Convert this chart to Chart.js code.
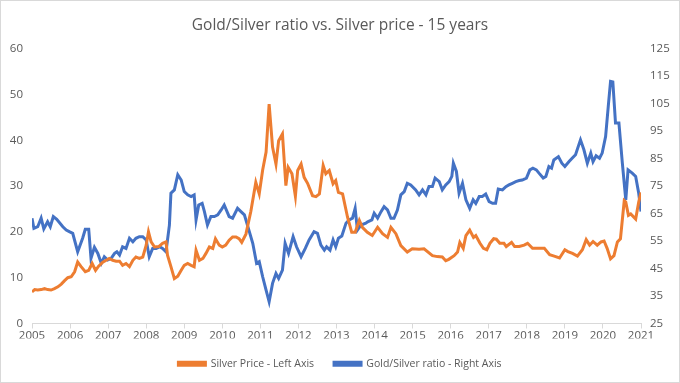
<!DOCTYPE html>
<html>
<head>
<meta charset="utf-8">
<script src="https://cdn.jsdelivr.net/npm/chart.js@4.4.1/dist/chart.umd.min.js"></script>
<style>
  html, body { margin: 0; padding: 0; background: #fff; }
  #wrap { width: 680px; height: 383px; position: relative; }
</style>
</head>
<body>
<div id="wrap"><canvas id="chart"></canvas></div>
<script>
// Silver price, USD/oz (left axis)
const silverYears = [
  2005.00, 2005.07, 2005.15, 2005.24, 2005.33, 2005.41, 2005.50, 2005.59, 2005.68, 2005.77,
  2005.85, 2005.94, 2006.03, 2006.12, 2006.20, 2006.29, 2006.40, 2006.49, 2006.58, 2006.67,
  2006.75, 2006.86, 2006.95, 2007.03, 2007.12, 2007.21, 2007.30, 2007.38, 2007.47, 2007.56,
  2007.65, 2007.73, 2007.82, 2007.91, 2008.00, 2008.06, 2008.13, 2008.22, 2008.33, 2008.43,
  2008.52, 2008.56, 2008.65, 2008.74, 2008.83, 2008.92, 2009.00, 2009.09, 2009.18, 2009.26,
  2009.31, 2009.40, 2009.49, 2009.57, 2009.66, 2009.75, 2009.82, 2009.92, 2010.00, 2010.09,
  2010.18, 2010.27, 2010.36, 2010.44, 2010.51, 2010.62, 2010.75, 2010.88, 2010.97, 2011.06,
  2011.15, 2011.23, 2011.32, 2011.41, 2011.48, 2011.58, 2011.67, 2011.73, 2011.83, 2011.92,
  2011.98, 2012.07, 2012.15, 2012.24, 2012.37, 2012.46, 2012.55, 2012.65, 2012.72, 2012.81,
  2012.91, 2012.98, 2013.05, 2013.16, 2013.29, 2013.40, 2013.49, 2013.60, 2013.68, 2013.81,
  2013.94, 2014.08, 2014.21, 2014.34, 2014.43, 2014.56, 2014.69, 2014.86, 2014.99, 2015.17,
  2015.30, 2015.52, 2015.65, 2015.78, 2015.87, 2015.95, 2016.09, 2016.18, 2016.24, 2016.33,
  2016.40, 2016.50, 2016.60, 2016.66, 2016.77, 2016.86, 2016.95, 2017.03, 2017.13, 2017.20,
  2017.29, 2017.40, 2017.46, 2017.60, 2017.68, 2017.80, 2017.93, 2018.02, 2018.15, 2018.32,
  2018.46, 2018.60, 2018.72, 2018.86, 2019.00, 2019.08, 2019.20, 2019.33, 2019.46, 2019.56,
  2019.65, 2019.74, 2019.85, 2019.95, 2020.03, 2020.11, 2020.20, 2020.29, 2020.38, 2020.46,
  2020.56, 2020.60, 2020.67, 2020.73, 2020.86, 2020.94, 2021.00
];
const silverPrice = [
  6.9, 7.4, 7.3, 7.4, 7.6, 7.4, 7.3, 7.6, 8.0, 8.6,
  9.3, 10.0, 10.2, 11.3, 13.4, 12.4, 11.3, 11.6, 13.1, 11.6,
  12.5, 13.4, 13.8, 14.2, 13.8, 13.6, 13.6, 12.7, 13.1, 12.4,
  13.8, 14.5, 14.2, 14.5, 17.1, 20.0, 17.8, 16.7, 16.8, 17.5,
  17.8, 14.9, 12.4, 9.8, 10.3, 11.6, 12.7, 13.1, 12.7, 12.4,
  16.0, 13.8, 14.2, 15.3, 16.7, 16.4, 18.5, 17.1, 16.7, 17.1,
  18.2, 18.9, 18.9, 18.5, 17.7, 19.5, 24.5, 30.8, 28.3, 33.5,
  37.4, 47.9, 38.5, 34.8, 39.9, 41.4, 30.1, 34.1, 32.7, 27.8,
  33.4, 34.8, 31.9, 30.6, 27.9, 27.7, 28.3, 34.5, 32.7, 33.4,
  30.5, 31.2, 28.6, 28.3, 23.2, 19.9, 19.9, 22.5, 21.0, 19.9,
  19.2, 21.0, 19.6, 18.8, 21.0, 19.6, 17.0, 15.6, 16.3, 16.2,
  16.3, 14.8, 14.6, 14.5, 13.7, 14.0, 14.8, 15.6, 17.7, 16.4,
  19.2, 20.4, 18.8, 19.2, 17.5, 16.4, 16.1, 17.5, 18.5, 18.4,
  17.5, 17.5, 16.8, 17.7, 16.8, 16.8, 17.1, 17.5, 16.4, 16.4,
  16.4, 15.0, 14.7, 14.3, 16.1, 15.7, 15.3, 14.7, 16.1, 18.3,
  17.1, 17.9, 17.1, 17.8, 18.0, 16.4, 14.1, 14.8, 17.8, 18.5,
  26.8, 26.5, 23.6, 23.9, 22.8, 26.5, 28.6
];

// Gold/Silver ratio (right axis)
const ratioYears = [
  2005.00, 2005.05, 2005.15, 2005.24, 2005.31, 2005.41, 2005.48, 2005.56, 2005.65, 2005.81,
  2005.90, 2005.98, 2006.07, 2006.20, 2006.33, 2006.40, 2006.49, 2006.55, 2006.64, 2006.73,
  2006.82, 2006.90, 2006.99, 2007.08, 2007.17, 2007.23, 2007.30, 2007.38, 2007.47, 2007.56,
  2007.65, 2007.73, 2007.82, 2007.91, 2008.00, 2008.08, 2008.17, 2008.26, 2008.35, 2008.43,
  2008.52, 2008.61, 2008.65, 2008.74, 2008.83, 2008.92, 2009.00, 2009.09, 2009.18, 2009.26,
  2009.31, 2009.38, 2009.47, 2009.53, 2009.61, 2009.70, 2009.79, 2009.88, 2009.97, 2010.05,
  2010.18, 2010.27, 2010.40, 2010.49, 2010.58, 2010.66, 2010.80, 2010.90, 2010.97, 2011.06,
  2011.15, 2011.23, 2011.32, 2011.41, 2011.48, 2011.58, 2011.65, 2011.74, 2011.86, 2011.95,
  2012.07, 2012.18, 2012.28, 2012.41, 2012.50, 2012.59, 2012.68, 2012.74, 2012.83, 2012.91,
  2012.98, 2013.05, 2013.14, 2013.25, 2013.33, 2013.42, 2013.49, 2013.55, 2013.64, 2013.77,
  2013.82, 2013.93, 2013.99, 2014.08, 2014.17, 2014.25, 2014.34, 2014.43, 2014.51, 2014.60,
  2014.69, 2014.78, 2014.86, 2014.95, 2015.08, 2015.17, 2015.26, 2015.35, 2015.43, 2015.52,
  2015.59, 2015.70, 2015.78, 2015.87, 2015.96, 2016.03, 2016.07, 2016.15, 2016.22, 2016.31,
  2016.40, 2016.50, 2016.59, 2016.66, 2016.75, 2016.83, 2016.92, 2017.01, 2017.10, 2017.18,
  2017.25, 2017.36, 2017.45, 2017.53, 2017.62, 2017.71, 2017.80, 2017.88, 2017.99, 2018.08,
  2018.16, 2018.25, 2018.32, 2018.43, 2018.50, 2018.58, 2018.65, 2018.71, 2018.83, 2018.92,
  2019.00, 2019.11, 2019.19, 2019.28, 2019.41, 2019.50, 2019.59, 2019.68, 2019.74, 2019.82,
  2019.91, 2019.98, 2020.07, 2020.14, 2020.20, 2020.26, 2020.33, 2020.42, 2020.51, 2020.60,
  2020.66, 2020.77, 2020.86, 2020.94, 2021.00
];
const goldSilverRatio = [
  63.3, 59.6, 60.2, 63.3, 59.4, 62.0, 60.2, 63.9, 62.9, 60.2,
  59.0, 58.4, 57.8, 51.1, 56.0, 59.3, 59.3, 48.7, 52.7, 50.5,
  46.9, 49.3, 48.1, 48.7, 50.5, 51.1, 49.9, 52.9, 52.3, 56.0,
  54.7, 56.0, 56.6, 56.6, 55.4, 49.3, 52.3, 52.3, 52.9, 52.3,
  51.1, 60.8, 72.4, 73.6, 79.1, 77.2, 73.0, 71.8, 71.2, 71.8,
  62.7, 68.1, 68.7, 65.7, 60.8, 63.9, 63.9, 64.5, 66.3, 68.1,
  63.9, 63.3, 66.9, 65.7, 64.5, 60.8, 54.2, 46.9, 47.5, 42.0,
  37.1, 32.9, 39.6, 43.2, 41.4, 44.4, 54.2, 50.5, 56.6, 52.9,
  49.3, 52.3, 55.4, 58.4, 57.8, 53.5, 51.7, 52.9, 51.7, 55.4,
  52.9, 56.0, 56.8, 61.5, 62.7, 63.3, 66.9, 59.0, 60.8, 61.5,
  62.0, 62.7, 65.1, 63.3, 65.7, 67.5, 66.3, 63.3, 63.3, 66.3,
  71.8, 73.0, 76.0, 75.4, 73.6, 71.8, 73.6, 71.8, 74.8, 74.8,
  77.9, 76.6, 73.6, 75.4, 76.6, 78.5, 83.3, 80.3, 72.4, 76.0,
  70.0, 66.9, 70.0, 68.7, 71.2, 71.2, 72.1, 69.3, 68.7, 68.7,
  73.9, 73.6, 74.8, 75.4, 76.0, 76.6, 77.0, 77.2, 77.9, 80.9,
  81.5, 80.9, 79.7, 77.9, 78.5, 82.1, 81.5, 84.5, 85.7, 83.3,
  82.1, 83.9, 85.1, 86.4, 91.8, 88.2, 83.3, 87.0, 83.9, 86.0,
  85.1, 87.0, 93.0, 104.0, 113.1, 112.9, 97.9, 97.9, 83.3, 70.0,
  80.9, 79.7, 78.5, 72.4, 65.7
];

const grey = "#595959";
const font = { family: "'Open Sans', sans-serif", size: 11.5 };

// white background + thin frame like the Excel chart area
const frame = {
  id: "frame",
  beforeDraw(chart) {
    const c = chart.ctx;
    c.save();
    c.fillStyle = "#fff";
    c.fillRect(0, 0, chart.width, chart.height);
    c.strokeStyle = "#d9d9d9";
    c.lineWidth = 1;
    c.strokeRect(0.5, 0.5, chart.width - 1, chart.height - 1);
    c.restore();
  }
};

new Chart(document.getElementById("chart"), {
  type: "line",
  data: {
    datasets: [
      {
        label: "Silver Price - Left Axis",
        data: silverYears.map((x, i) => ({ x: x, y: silverPrice[i] })),
        borderColor: "#ED7D31",
        backgroundColor: "#ED7D31",
        borderWidth: 3,
        pointRadius: 0,
        tension: 0,
        yAxisID: "y"
      },
      {
        label: "Gold/Silver ratio - Right Axis",
        data: ratioYears.map((x, i) => ({ x: x, y: goldSilverRatio[i] })),
        borderColor: "#4472C4",
        backgroundColor: "#4472C4",
        borderWidth: 3,
        pointRadius: 0,
        tension: 0,
        yAxisID: "y1"
      }
    ]
  },
  options: {
    responsive: true,
    maintainAspectRatio: false,
    animation: false,
    layout: { padding: { top: 6, bottom: 4, left: 0, right: 0 } },
    scales: {
      x: {
        type: "linear",
        min: 2005,
        max: 2021,
        ticks: { stepSize: 1, color: grey, font: font, padding: 0, callback: v => String(v) },
        grid: { drawOnChartArea: false, drawTicks: true, tickLength: 5, color: "#d9d9d9" },
        border: { color: "#d9d9d9" },
        afterFit: s => { s.height = 15; }
      },
      y: {
        position: "left",
        min: 0,
        max: 60,
        ticks: { stepSize: 10, color: grey, font: font, padding: 9 },
        grid: { display: false, drawTicks: false },
        border: { display: false },
        afterFit: s => { s.width = 32; }
      },
      y1: {
        position: "right",
        min: 25,
        max: 125,
        ticks: { stepSize: 10, color: grey, font: font, padding: 9 },
        grid: { display: false, drawTicks: false },
        border: { display: false },
        afterFit: s => { s.width = 39; }
      }
    },
    plugins: {
      title: {
        display: true,
        text: "Gold/Silver ratio vs. Silver price - 15 years",
        color: grey,
        font: { family: "'Open Sans', sans-serif", size: 15.5, weight: "normal" },
        padding: { top: 10, bottom: 14 }
      },
      legend: {
        position: "bottom",
        labels: {
          color: grey,
          font: { family: "'Open Sans', sans-serif", size: 10.5 },
          boxWidth: 27, boxHeight: 3, padding: 20
        }
      },
      tooltip: { enabled: false }
    }
  },
  plugins: [frame]
});
</script>
</body>
</html>
